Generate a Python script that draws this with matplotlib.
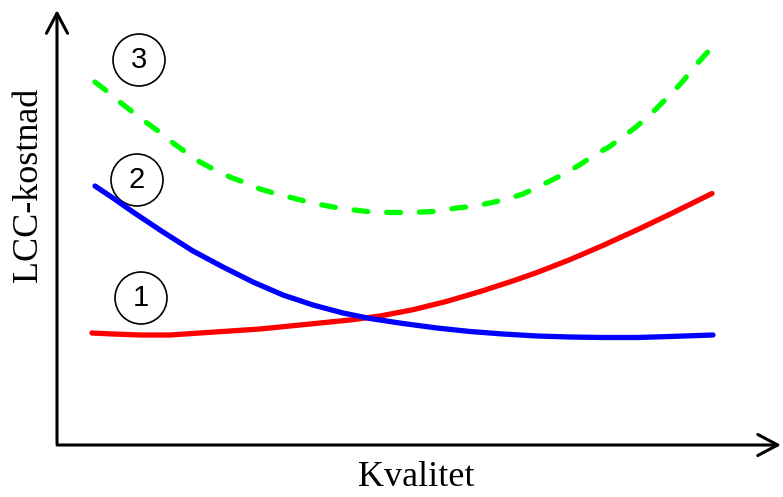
import matplotlib
matplotlib.use("Agg")
import matplotlib.pyplot as plt
from matplotlib.patches import FancyArrowPatch, Circle

# Quality (x) and LCC cost (y) in arbitrary units, origin at axis corner
quality_1 = [35, 56, 83, 113, 143, 173, 203, 233, 263, 293, 323, 356, 390, 423,
             456, 480, 513, 546, 580, 613, 655]
cost_1 = [110, 109, 108, 108, 110, 112, 114, 117, 120, 123, 127, 133.3, 141.7, 151.4,
          162.1, 170.5, 183.4, 197.6, 213.1, 228.8, 249.5]

quality_2 = [38, 56, 76, 106, 136, 166, 196, 226, 256, 286, 313, 346, 380, 413,
             446, 480, 513, 546, 580, 613, 656]
cost_2 = [257, 245, 231, 211, 192, 176, 161, 148, 138, 130, 124.5, 119.5, 115, 111.5,
          109, 107, 106, 105.5, 105.5, 106.5, 108]

quality_3 = [38, 51, 64, 77, 90, 104, 116, 130, 143, 158, 173, 189, 203, 220, 236,
             255, 276, 293, 310, 333, 353, 376, 400, 418, 433, 450, 466, 481, 495,
             507, 524, 539, 552, 567, 579, 593, 603, 616, 626, 638, 648, 658]
cost_3 = [361, 351, 340, 330, 320, 310, 300, 290, 281, 273, 266, 260, 254, 249, 245,
          240, 236, 233.5, 231.5, 230.5, 230.5, 231.5, 235, 237, 240, 244, 249, 256, 263,
          269, 279, 289, 296, 307, 316, 328, 338, 351, 362, 377, 388, 399]

labels = ["1", "2", "3"]
label_pos = [(84, 145), (80, 263), (82, 383)]

x_label = "Kvalitet"
y_label = "LCC-kostnad"

fig = plt.figure(figsize=(7.83, 4.97), dpi=100)
ax = fig.add_axes([0, 0, 1, 1])
ax.set_xlim(-57, 726)
ax.set_ylim(-54, 443)
ax.axis("off")

LW = 3.8
ax.plot(quality_1, cost_1, color="#ff0000", lw=LW, solid_capstyle="round", solid_joinstyle="round")
ax.plot(quality_2, cost_2, color="#0000ff", lw=LW, solid_capstyle="round", solid_joinstyle="round")
ax.plot(quality_3, cost_3, color="#00ff00", lw=LW, dashes=(2.6, 3.6),
        dash_capstyle="round", dash_joinstyle="round")

for lab, (cx, cy) in zip(labels, label_pos):
    ax.add_patch(Circle((cx, cy), 26, fill=False, ec="black", lw=1.2))
    ax.text(cx, cy, lab, ha="center", va="center", fontsize=21,
            family="Liberation Sans")

# axes arrows
arr_y = FancyArrowPatch((0, 0), (0, 433), arrowstyle="->,head_length=0.72,head_width=0.38",
                        mutation_scale=20, lw=2.2, color="black", shrinkA=0, shrinkB=0)
arr_x = FancyArrowPatch((0, -2), (724, -2), arrowstyle="->,head_length=0.72,head_width=0.38",
                        mutation_scale=20, lw=2.2, color="black", shrinkA=0, shrinkB=0)
ax.add_patch(arr_y)
ax.add_patch(arr_x)

fig.text(416 / 783, 1 - 478 / 497, x_label, ha="center", va="center",
         fontsize=26, family="Liberation Serif")
fig.text(29 / 783, 1 - 185 / 497, y_label, ha="center", va="center", rotation=90,
         fontsize=26, family="Liberation Serif")

fig.savefig("out.png", dpi=100)
